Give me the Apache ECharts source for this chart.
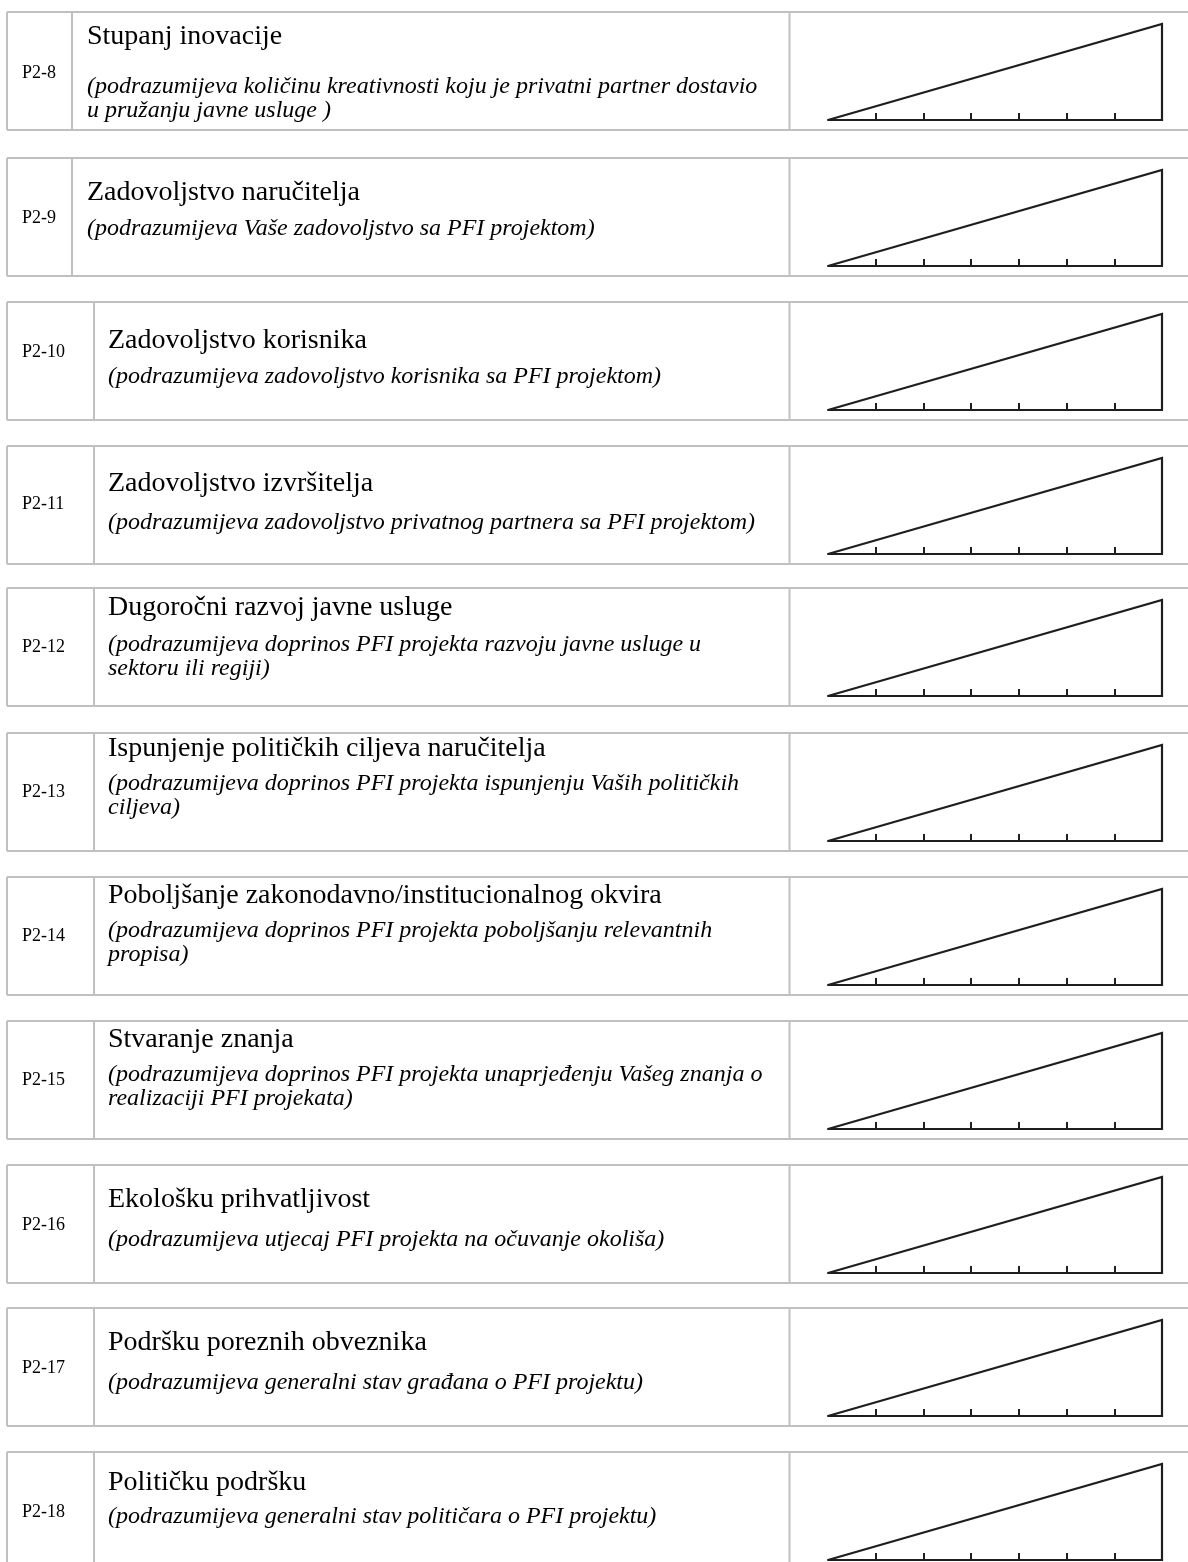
<!DOCTYPE html>
<html>
<head>
<meta charset="utf-8">
<script src="https://cdn.jsdelivr.net/npm/echarts@6/dist/echarts.min.js"></script>
<style>
html,body{margin:0;padding:0;background:#fff;}
#chart{width:1188px;height:1562px;}
</style>
</head>
<body>
<div id="chart"></div>
<script>
// ---- data ----
const codes = ['P2-8','P2-9','P2-10','P2-11','P2-12','P2-13','P2-14','P2-15','P2-16','P2-17','P2-18'];
const titles = [
  'Stupanj inovacije',
  'Zadovoljstvo naručitelja',
  'Zadovoljstvo korisnika',
  'Zadovoljstvo izvršitelja',
  'Dugoročni razvoj javne usluge',
  'Ispunjenje političkih ciljeva naručitelja',
  'Poboljšanje zakonodavno/institucionalnog okvira',
  'Stvaranje znanja',
  'Ekološku prihvatljivost',
  'Podršku poreznih obveznika',
  'Političku podršku'
];
const descriptions = [
  ['(podrazumijeva količinu kreativnosti koju je privatni partner dostavio', 'u pružanju javne usluge )'],
  ['(podrazumijeva Vaše zadovoljstvo sa PFI projektom)'],
  ['(podrazumijeva zadovoljstvo korisnika sa PFI projektom)'],
  ['(podrazumijeva zadovoljstvo privatnog partnera sa PFI projektom)'],
  ['(podrazumijeva doprinos PFI projekta razvoju javne usluge u', 'sektoru ili regiji)'],
  ['(podrazumijeva doprinos PFI projekta ispunjenju Vaših političkih', 'ciljeva)'],
  ['(podrazumijeva doprinos PFI projekta poboljšanju relevantnih', 'propisa)'],
  ['(podrazumijeva doprinos PFI projekta unaprjeđenju Vašeg znanja o', 'realizaciji PFI projekata)'],
  ['(podrazumijeva utjecaj PFI projekta na očuvanje okoliša)'],
  ['(podrazumijeva generalni stav građana o PFI projektu)'],
  ['(podrazumijeva generalni stav političara o PFI projektu)']
];
// scale triangle (value space): apex at 0, rising to 7
const scaleX = [0, 7, 7, 0];
const scaleY = [0, 1, 0, 0];
const scaleMax = 7;
const tickValues = [1, 2, 3, 4, 5, 6];

// ---- layout (positions / styles) ----
const rowTops = [12, 158, 302, 446, 588, 733, 877, 1021, 1165, 1308, 1452];
const rowH = 118;
const titleOff = [25, 35, 39, 38, 20, 16, 19, 19, 35, 35, 31];
const descOff  = [75, 71, 75, 77, 57, 51, 54, 54, 75, 75, 65];
const codeOff  = [61, 60, 50, 58, 59, 59, 59, 59, 60, 60, 60];
const lineGap = 24;
const border = '#c0c0c0';
const ink = '#1e1e1e';
const serif = '"Liberation Serif","Times New Roman",serif';

const graphics = [];
const grids = [], xAxes = [], yAxes = [], series = [];
function hline(x1, x2, y) {
  graphics.push({type:'line', shape:{x1:x1, y1:y, x2:x2, y2:y}, style:{stroke:border, lineWidth:2}, silent:true});
}
function vline(x, y1, y2) {
  graphics.push({type:'line', shape:{x1:x, y1:y1, x2:x, y2:y2}, style:{stroke:border, lineWidth:2}, silent:true});
}
codes.forEach(function (code, i) {
  const top = rowTops[i];
  const last = i === codes.length - 1;
  const bottom = last ? 1562 : top + rowH;
  const divX = i < 2 ? 72 : 94;
  const textX = i < 2 ? 87 : 108;
  hline(7, 1188, top);
  if (!last) hline(7, 1188, bottom);
  vline(7, top, bottom);
  vline(divX, top, bottom);
  vline(789.5, top, bottom);
  graphics.push({type:'text', x:22, y:top + codeOff[i], silent:true,
    style:{text:code, font:'18px ' + serif, fill:'#000', verticalAlign:'middle', align:'left'}});
  graphics.push({type:'text', x:textX, y:top + titleOff[i], silent:true,
    style:{text:titles[i], font:'28px ' + serif, fill:'#000', verticalAlign:'middle', align:'left'}});
  descriptions[i].forEach(function (line, k) {
    graphics.push({type:'text', x:textX, y:top + descOff[i] + k * lineGap, silent:true,
      style:{text:line, font:'italic 24px ' + serif, fill:'#000', verticalAlign:'middle', align:'left'}});
  });
  grids.push({left:828, width:334, top:top + 12, height:96, containLabel:false});
  xAxes.push({type:'value', gridIndex:i, min:0, max:scaleMax, interval:1,
    axisLine:{show:true, lineStyle:{color:ink, width:2}},
    axisTick:{show:true, inside:true, length:7, customValues:tickValues, lineStyle:{color:ink, width:2}},
    axisLabel:{show:false}, splitLine:{show:false}});
  yAxes.push({type:'value', gridIndex:i, min:0, max:1, show:false, splitLine:{show:false}});
  series.push({type:'line', xAxisIndex:i, yAxisIndex:i, clip:false, symbol:'none', silent:true,
    data:scaleX.map(function (x, k) { return [x, scaleY[k]]; }),
    lineStyle:{color:ink, width:2.2, join:'miter'}});
});

const chart = echarts.init(document.getElementById('chart'), null, {renderer:'canvas'});
chart.setOption({
  animation:false,
  backgroundColor:'#ffffff',
  grid:grids, xAxis:xAxes, yAxis:yAxes, series:series,
  graphic:{elements:graphics}
});
</script>
</body>
</html>
